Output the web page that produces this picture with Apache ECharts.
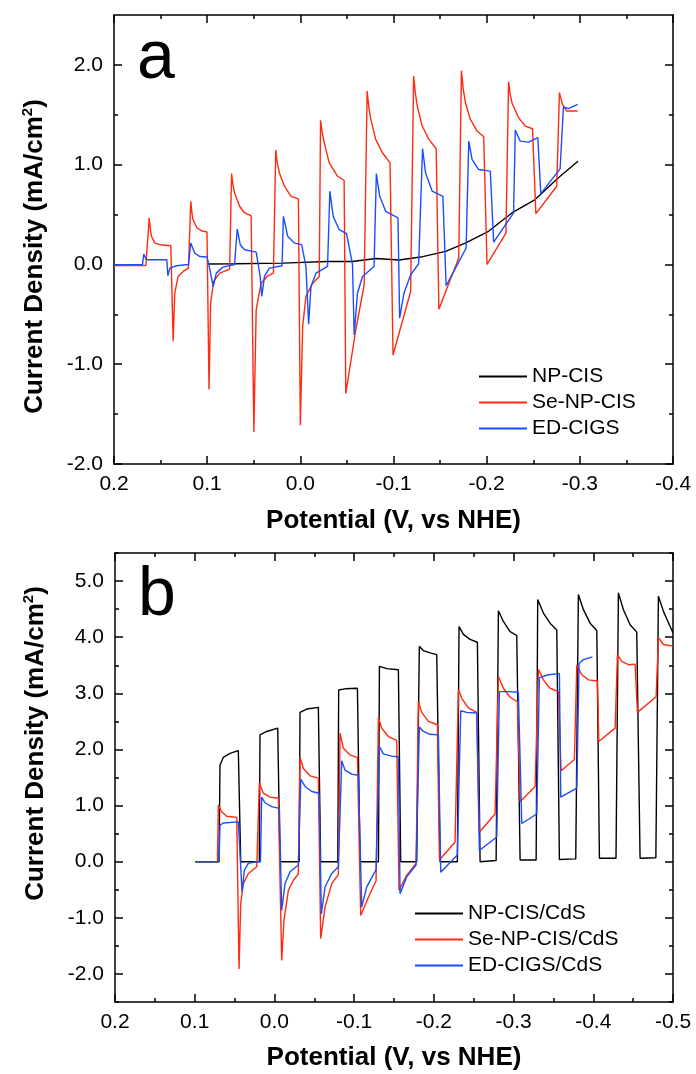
<!DOCTYPE html>
<html>
<head>
<meta charset="utf-8">
<script src="https://cdn.jsdelivr.net/npm/echarts@6/dist/echarts.min.js"></script>
<style>
  html, body { margin: 0; padding: 0; background: #fff; }
  #main { width: 696px; height: 1074px; }
</style>
</head>
<body>
<div id="main"></div>
<script>
// ---- panel a : bare absorbers ----
var namesA = ['NP-CIS', 'Se-NP-CIS', 'ED-CIGS'];
var xTicksA = [0.2, 0.1, 0.0, -0.1, -0.2, -0.3, -0.4];
var xMinorA = [0.15, 0.05, -0.05, -0.15, -0.25, -0.35];
var yTicksA = [-2, -1, 0, 1, 2];
var yMinorA = [-1.5, -0.5, 0.5, 1.5];

var blackA = [
  [0.100, 0.005], [0.069, 0.007], [0.019, 0.013], [-0.029, 0.03], [-0.056, 0.03],
  [-0.081, 0.06], [-0.106, 0.045], [-0.129, 0.074], [-0.156, 0.131], [-0.177, 0.214],
  [-0.202, 0.332], [-0.227, 0.516], [-0.252, 0.65], [-0.277, 0.868], [-0.298, 1.035]
];
var redA = [
  [0.200, -0.01], [0.1658, -0.01], [0.1622, 0.466], [0.1608, 0.34], [0.1597, 0.28], [0.1561, 0.214], [0.1508, 0.198], [0.139, 0.188],
  [0.1365, -0.77], [0.1348, -0.29], [0.1312, -0.12], [0.1258, -0.07], [0.1201, -0.037],
  [0.1176, 0.633], [0.1164, 0.52], [0.1152, 0.449], [0.1109, 0.365], [0.1062, 0.338], [0.1002, 0.325],
  [0.098, -1.253], [0.0963, -0.39], [0.093, -0.17], [0.0866, -0.087], [0.0759, -0.047],
  [0.0738, 0.911], [0.0724, 0.80], [0.0706, 0.717], [0.0652, 0.583], [0.0599, 0.516], [0.0528, 0.489],
  [0.0499, -1.678], [0.0474, -0.456], [0.0421, -0.188], [0.035, -0.114], [0.0289, -0.087],
  [0.0264, 1.146], [0.0248, 1.02], [0.0225, 0.918], [0.0171, 0.784], [0.010, 0.683], [0.0021, 0.657],
  [0.000, -1.611], [-0.0025, -0.62], [-0.006, -0.32], [-0.0132, -0.19], [-0.0203, -0.12],
  [-0.0217, 1.444], [-0.0235, 1.32], [-0.0257, 1.219], [-0.031, 1.018], [-0.0399, 0.884], [-0.047, 0.844],
  [-0.0488, -1.293], [-0.0595, -0.657], [-0.0685, -0.204],
  [-0.0717, 1.739], [-0.0735, 1.58], [-0.0756, 1.454], [-0.0809, 1.253], [-0.0881, 1.119], [-0.0963, 1.018],
  [-0.0995, -0.908], [-0.1184, -0.271],
  [-0.1216, 1.889], [-0.1234, 1.72], [-0.1255, 1.588], [-0.1308, 1.387], [-0.138, 1.253], [-0.1458, 1.159],
  [-0.1487, -0.449], [-0.170, 0.064],
  [-0.1729, 1.94], [-0.1748, 1.76], [-0.1772, 1.621], [-0.1825, 1.454], [-0.1897, 1.337], [-0.1968, 1.28],
  [-0.2004, 0.0], [-0.2207, 0.315],
  [-0.2235, 1.832], [-0.2252, 1.71], [-0.2271, 1.621], [-0.2342, 1.471], [-0.2414, 1.387], [-0.2492, 1.36],
  [-0.2528, 0.509], [-0.2752, 0.784],
  [-0.2781, 1.722], [-0.2813, 1.605], [-0.2859, 1.538], [-0.2977, 1.538]
];
var blueA = [
  [0.200, -0.005], [0.1694, 0.0], [0.168, 0.104], [0.1658, 0.054], [0.1633, 0.047], [0.1433, 0.047],
  [0.1422, -0.114], [0.140, -0.037], [0.133, -0.013], [0.120, 0.0],
  [0.1185, 0.0], [0.1176, 0.214], [0.1134, 0.114], [0.108, 0.08], [0.1002, 0.074],
  [0.0985, 0.01], [0.0935, -0.221], [0.0902, -0.087], [0.0831, -0.027], [0.0706, 0.0],
  [0.0688, 0.01], [0.0677, 0.355], [0.0645, 0.198], [0.0599, 0.147], [0.0474, 0.124],
  [0.0431, -0.12], [0.0414, -0.32], [0.0385, -0.12], [0.0332, -0.037], [0.0196, -0.013],
  [0.0192, 0.0], [0.0182, 0.482], [0.0135, 0.281], [0.0064, 0.214], [-0.0014, 0.198],
  [-0.006, -0.02], [-0.0089, -0.6], [-0.0114, -0.221], [-0.0168, -0.087], [-0.0292, -0.02],
  [-0.0303, 0.0], [-0.0317, 0.734], [-0.0353, 0.482], [-0.0417, 0.348], [-0.0496, 0.308],
  [-0.056, 0.0], [-0.0578, -0.707], [-0.0613, -0.288], [-0.0667, -0.121], [-0.0791, -0.02],
  [-0.080, 0.0], [-0.0816, 0.911], [-0.0852, 0.683], [-0.0916, 0.533], [-0.1048, 0.466],
  [-0.1066, -0.539], [-0.1112, -0.288], [-0.1184, -0.104], [-0.127, 0.007],
  [-0.1312, 1.162], [-0.1344, 0.918], [-0.1415, 0.734], [-0.153, 0.683],
  [-0.1565, -0.214], [-0.1779, 0.164],
  [-0.1808, 1.236], [-0.1843, 1.052], [-0.1914, 0.951], [-0.2039, 0.935],
  [-0.2075, 0.224], [-0.2289, 0.516],
  [-0.2307, 1.347], [-0.236, 1.236], [-0.2449, 1.226], [-0.2549, 1.27],
  [-0.2581, 0.71], [-0.2788, 0.958],
  [-0.2824, 1.578], [-0.2877, 1.561], [-0.2977, 1.605]
];

// ---- panel b : with CdS buffer ----
var namesB = ['NP-CIS/CdS', 'Se-NP-CIS/CdS', 'ED-CIGS/CdS'];
var xTicksB = [0.2, 0.1, 0.0, -0.1, -0.2, -0.3, -0.4, -0.5];
var xMinorB = [0.15, 0.05, -0.05, -0.15, -0.25, -0.35, -0.45];
var yTicksB = [-2, -1, 0, 1, 2, 3, 4, 5];
var yMinorB = [-2.5, -1.5, -0.5, 0.5, 1.5, 2.5, 3.5, 4.5, 5.5];

var blackB = [
  [0.0996, 0], [0.0695, 0], [0.0683, 1.72], [0.0641, 1.86], [0.0557, 1.93], [0.0453, 1.98],
  [0.0423, 0], [0.0190, 0], [0.0181, 2.26], [0.0097, 2.32], [-0.0041, 2.38],
  [-0.007, 0], [-0.031, 0], [-0.0321, 2.66], [-0.0405, 2.72], [-0.0551, 2.75],
  [-0.058, 0], [-0.0795, 0], [-0.0806, 3.06], [-0.0886, 3.08], [-0.1041, 3.09],
  [-0.1074, 0], [-0.1305, 0], [-0.1317, 3.48], [-0.1409, 3.44], [-0.1555, 3.42],
  [-0.1584, 0], [-0.1785, 0], [-0.1818, 3.84], [-0.1869, 3.76], [-0.1952, 3.72], [-0.2036, 3.69],
  [-0.2078, 0], [-0.2295, 0], [-0.2316, 4.19], [-0.237, 4.05], [-0.2454, 3.96], [-0.2546, 3.91],
  [-0.258, 0], [-0.2781, 0.02], [-0.281, 4.47], [-0.2872, 4.28], [-0.2956, 4.10], [-0.304, 4.03],
  [-0.3082, 0.03], [-0.3283, 0.03], [-0.3303, 4.67], [-0.3374, 4.43], [-0.3458, 4.25], [-0.3542, 4.13],
  [-0.3575, 0.04], [-0.3780, 0.05], [-0.3813, 4.76], [-0.3876, 4.49], [-0.396, 4.25], [-0.4044, 4.12],
  [-0.4077, 0.06], [-0.4285, 0.06], [-0.4315, 4.79], [-0.4378, 4.49], [-0.4462, 4.22], [-0.4545, 4.09],
  [-0.4587, 0.06], [-0.4785, 0.07], [-0.4817, 4.73], [-0.488, 4.46], [-0.4964, 4.19], [-0.500, 4.08]
];
var redB = [
  [0.0996, 0], [0.0715, 0], [0.0703, 1.01], [0.0662, 0.89], [0.0599, 0.81], [0.0473, 0.79],
  [0.0444, -1.91], [0.0423, -0.75], [0.039, -0.39], [0.0327, -0.21], [0.0222, -0.09],
  [0.0189, 1.40], [0.0139, 1.22], [0.0055, 1.15], [-0.0049, 1.13],
  [-0.0091, -1.76], [-0.012, -1.04], [-0.0175, -0.51], [-0.0238, -0.33], [-0.030, -0.22],
  [-0.0321, 1.86], [-0.0363, 1.66], [-0.0447, 1.53], [-0.0551, 1.49],
  [-0.058, -1.37], [-0.0635, -0.81], [-0.0719, -0.39], [-0.0802, -0.23],
  [-0.0823, 2.29], [-0.0865, 2.02], [-0.0949, 1.90], [-0.1041, 1.86],
  [-0.1082, -0.96], [-0.1199, -0.57], [-0.1275, -0.34],
  [-0.1304, 2.57], [-0.1346, 2.38], [-0.1429, 2.23], [-0.1534, 2.16],
  [-0.1563, -0.51], [-0.166, -0.24], [-0.1777, -0.03],
  [-0.1806, 2.85], [-0.1848, 2.66], [-0.1931, 2.50], [-0.2044, 2.44],
  [-0.207, 0.03], [-0.2266, 0.35],
  [-0.2308, 3.07], [-0.235, 2.91], [-0.2433, 2.74], [-0.2538, 2.66],
  [-0.2571, 0.53], [-0.2768, 0.85],
  [-0.281, 3.30], [-0.2872, 3.09], [-0.2956, 2.93], [-0.3048, 2.85],
  [-0.3082, 1.07], [-0.327, 1.34],
  [-0.3312, 3.43], [-0.3374, 3.24], [-0.3458, 3.09], [-0.3563, 3.03],
  [-0.3596, 1.62], [-0.3763, 1.82],
  [-0.3793, 3.51], [-0.3855, 3.33], [-0.3939, 3.24], [-0.4052, 3.22],
  [-0.4069, 2.14], [-0.4274, 2.38],
  [-0.4303, 3.69], [-0.4357, 3.57], [-0.4441, 3.51], [-0.4524, 3.52],
  [-0.4554, 2.66], [-0.4788, 2.94],
  [-0.4817, 3.99], [-0.488, 3.87], [-0.500, 3.84]
];
var blueB = [
  [0.0996, 0], [0.0695, 0], [0.0683, 0.65], [0.0641, 0.69], [0.0453, 0.71],
  [0.0406, -0.54], [0.0377, -0.15], [0.0327, -0.03], [0.0222, 0],
  [0.0175, 0], [0.016, 1.15], [0.0118, 1.05], [0.0034, 0.98], [-0.0062, 0.95],
  [-0.0091, -0.87], [-0.0133, -0.39], [-0.0196, -0.18], [-0.030, -0.06],
  [-0.033, 1.47], [-0.0384, 1.34], [-0.0468, 1.25], [-0.056, 1.22],
  [-0.0589, -0.93], [-0.0635, -0.45], [-0.0719, -0.21], [-0.0802, -0.09],
  [-0.0844, 1.80], [-0.0886, 1.63], [-0.097, 1.56], [-0.1053, 1.54],
  [-0.1095, -0.81], [-0.1158, -0.45], [-0.1275, -0.14],
  [-0.1317, 2.05], [-0.1367, 1.92], [-0.1471, 1.88], [-0.1555, 1.87],
  [-0.1576, -0.57], [-0.166, -0.27], [-0.1777, -0.06],
  [-0.1818, 2.40], [-0.1869, 2.32], [-0.1952, 2.27], [-0.2057, 2.26],
  [-0.2086, -0.19], [-0.2295, 0.12],
  [-0.2337, 2.69], [-0.2412, 2.66], [-0.2538, 2.65],
  [-0.2571, 0.20], [-0.2789, 0.44],
  [-0.2822, 3.03], [-0.2935, 3.03], [-0.306, 3.02],
  [-0.3103, 0.68], [-0.3291, 0.85],
  [-0.3324, 3.28], [-0.3437, 3.33], [-0.3575, 3.35],
  [-0.3592, 1.15], [-0.3793, 1.31],
  [-0.3822, 3.53], [-0.3876, 3.60], [-0.3989, 3.65]
];

var FONT = 'Arial, "Liberation Sans", sans-serif';
var colors = ['#000000', '#ff2a10', '#1a4dff'];

// builds the major axis (line, long ticks, labels) plus an overlay with short minor ticks
var makeAxes = function(grid, pos, min, max, majors, minors, opt) {
    var tickStyle = {color: '#000', width: 1.5};
    var major = {
        type: 'value', gridIndex: grid, position: pos, min: min, max: max,
        inverse: !!opt.inverse, splitLine: {show: false},
        axisLine: {show: true, onZero: false, lineStyle: {color: '#000', width: 1.5}},
        axisTick: {show: true, inside: true, length: 8, customValues: majors, lineStyle: tickStyle},
        axisLabel: {show: false}
    };
    if (opt.label) {
        major.axisLabel = {
            show: true, customValues: majors, color: '#000', fontSize: 21, fontFamily: FONT,
            margin: opt.margin,
            formatter: function(v) { return (+v).toFixed(1); }
        };
    }
    if (opt.name) {
        major.name = opt.name;
        major.nameLocation = 'middle';
        major.nameGap = opt.nameGap;
        major.nameTextStyle = opt.nameStyle;
    }
    var minor = {
        type: 'value', gridIndex: grid, position: pos, min: min, max: max,
        inverse: !!opt.inverse, splitLine: {show: false},
        axisLine: {show: false, onZero: false},
        axisTick: {show: true, inside: true, length: 4, customValues: minors, lineStyle: tickStyle},
        axisLabel: {show: false}
    };
    return [major, minor];
};

var xName = 'Potential (V, vs NHE)';
var xNameStyle = {fontSize: 26, fontWeight: 'bold', color: '#000', fontFamily: FONT};
var yName = '{b|Current Density (mA/cm}{s|2}{b|)}';
var yRich = {
    b: {fontSize: 26, fontWeight: 'bold', color: '#000', fontFamily: FONT, lineHeight: 30},
    s: {fontSize: 15, fontWeight: 'bold', color: '#000', fontFamily: FONT, verticalAlign: 'top', lineHeight: 30}
};
// padding shifts the rotated title along the axis (right pad = down, left pad = up)
var yNameStyleA = {rich: yRich, padding: [0, 34, 0, 0]};
var yNameStyleB = {rich: yRich, padding: [0, 0, 0, 68]};

var xAxes = [].concat(
    makeAxes(0, 'bottom', -0.4, 0.2, xTicksA, xMinorA, {inverse: true, label: true, margin: 10, name: xName, nameGap: 44, nameStyle: xNameStyle}),
    makeAxes(0, 'top', -0.4, 0.2, xTicksA, xMinorA, {inverse: true}),
    makeAxes(1, 'bottom', -0.5, 0.2, xTicksB, xMinorB, {inverse: true, label: true, margin: 10, name: xName, nameGap: 43, nameStyle: xNameStyle}),
    makeAxes(1, 'top', -0.5, 0.2, xTicksB, xMinorB, {inverse: true})
);
var yAxes = [].concat(
    makeAxes(0, 'left', -2, 2.5, yTicksA, yMinorA, {label: true, margin: 11, name: yName, nameGap: 64, nameStyle: yNameStyleA}),
    makeAxes(0, 'right', -2, 2.5, yTicksA, yMinorA, {}),
    makeAxes(1, 'left', -2.5, 5.5, yTicksB, yMinorB, {label: true, margin: 11, name: yName, nameGap: 64, nameStyle: yNameStyleB}),
    makeAxes(1, 'right', -2.5, 5.5, yTicksB, yMinorB, {})
);

var lineSeries = function(name, data, color, axisIdx) {
    return {
        name: name, type: 'line', data: data, xAxisIndex: axisIdx, yAxisIndex: axisIdx,
        symbol: 'none', showSymbol: false, animation: false, clip: true,
        lineStyle: {color: color, width: 1.4}, itemStyle: {color: color}
    };
};

var legendStyle = {color: '#000', fontSize: 21, fontFamily: FONT};

var option = {
    backgroundColor: '#fff',
    animation: false,
    grid: [
        {left: 114, top: 15, width: 559, height: 449},
        {left: 115, top: 553, width: 558, height: 449}
    ],
    xAxis: xAxes,
    yAxis: yAxes,
    legend: [
        {data: namesA, orient: 'vertical', left: 474, top: 361, icon: 'rect', itemWidth: 48, itemHeight: 2, itemGap: 5,
         textStyle: legendStyle, selectedMode: false},
        {data: namesB, orient: 'vertical', left: 410, top: 898, icon: 'rect', itemWidth: 48, itemHeight: 2, itemGap: 5,
         textStyle: legendStyle, selectedMode: false}
    ],
    graphic: [
        {type: 'text', left: 137, top: 25, style: {text: 'a', font: '68px ' + FONT, fill: '#000'}},
        {type: 'text', left: 138, top: 562, style: {text: 'b', font: '68px ' + FONT, fill: '#000'}}
    ],
    series: [
        lineSeries(namesA[0], blackA, colors[0], 0),
        lineSeries(namesA[1], redA, colors[1], 0),
        lineSeries(namesA[2], blueA, colors[2], 0),
        lineSeries(namesB[0], blackB, colors[0], 4),
        lineSeries(namesB[1], redB, colors[1], 4),
        lineSeries(namesB[2], blueB, colors[2], 4)
    ]
};

var myChart = echarts.init(document.getElementById('main'));
myChart.setOption(option);
</script>
</body>
</html>
